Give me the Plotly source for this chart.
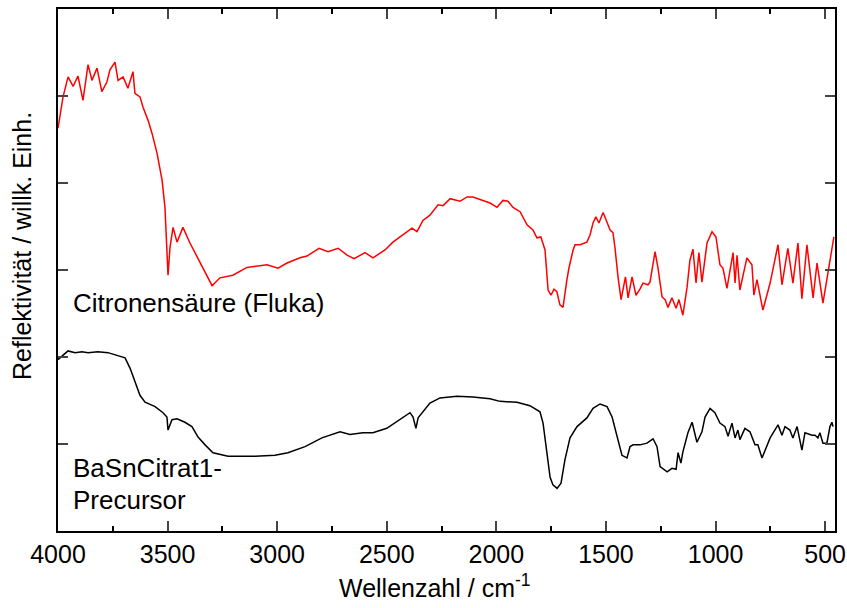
import plotly.graph_objects as go

# Citronensäure (Fluka) – wavenumber / reflectance (arb. units)
red_wn = [4000, 3977, 3954, 3931, 3909, 3886, 3863, 3845, 3822, 3800, 3777, 3763, 3740, 3726, 3703,
          3681, 3658, 3649, 3626, 3612, 3589, 3571, 3548, 3525, 3512, 3498, 3489, 3475, 3457, 3430,
          3398, 3352, 3320, 3297, 3261, 3202, 3138, 3046, 2996, 2955, 2896, 2864, 2809, 2768, 2722,
          2681, 2649, 2599, 2563, 2508, 2472, 2426, 2385, 2362, 2335, 2303, 2266, 2243, 2211, 2166,
          2134, 2107, 2066, 2029, 1997, 1970, 1947, 1924, 1892, 1860, 1833, 1815, 1797, 1778, 1764,
          1751, 1737, 1724, 1710, 1696, 1678, 1669, 1650, 1641, 1618, 1587, 1573, 1559, 1546, 1532,
          1513, 1495, 1481, 1468, 1459, 1445, 1431, 1411, 1399, 1381, 1363, 1345, 1331, 1308, 1299,
          1276, 1263, 1244, 1230, 1217, 1199, 1180, 1167, 1149, 1130, 1117, 1103, 1089, 1076, 1062,
          1039, 1016, 998, 980, 966, 948, 934, 920, 911, 902, 889, 857, 834, 825, 811,
          784, 751, 715, 697, 670, 647, 624, 606, 583, 555, 537, 510, 478, 460]
red_y = [4.63, 4.99, 5.22, 5.11, 5.23, 4.95, 5.36, 5.18, 5.32, 5.05, 5.16, 5.30, 5.39, 5.18, 5.22,
         5.09, 5.28, 5.03, 4.99, 4.87, 4.72, 4.57, 4.34, 4.03, 3.72, 2.94, 3.26, 3.49, 3.32, 3.49,
         3.31, 3.08, 2.92, 2.82, 2.91, 2.94, 3.03, 3.06, 3.02, 3.08, 3.14, 3.16, 3.25, 3.21, 3.25,
         3.17, 3.13, 3.20, 3.14, 3.23, 3.32, 3.40, 3.48, 3.44, 3.57, 3.63, 3.75, 3.74, 3.82, 3.79,
         3.84, 3.84, 3.80, 3.77, 3.72, 3.80, 3.79, 3.72, 3.67, 3.52, 3.46, 3.37, 3.38, 3.23, 2.77,
         2.71, 2.78, 2.75, 2.60, 2.57, 2.89, 3.02, 3.23, 3.29, 3.29, 3.32, 3.40, 3.54, 3.61, 3.54,
         3.66, 3.55, 3.46, 3.43, 3.26, 2.92, 2.66, 2.92, 2.68, 2.92, 2.71, 2.78, 2.85, 2.83, 2.86,
         3.21, 3.03, 2.69, 2.66, 2.57, 2.68, 2.56, 2.66, 2.48, 2.80, 3.11, 3.24, 2.85, 3.20, 2.86,
         3.31, 3.44, 3.38, 3.06, 3.02, 2.79, 3.00, 3.20, 2.85, 3.17, 2.77, 3.14, 3.06, 2.71, 2.89,
         2.54, 2.85, 3.29, 2.83, 3.25, 2.85, 3.31, 2.67, 3.29, 2.68, 3.08, 2.62, 3.08, 3.38]

# BaSnCitrat1-Precursor
blk_wn = [4000, 3977, 3954, 3922, 3891, 3863, 3818, 3772, 3726, 3694, 3671, 3649, 3626, 3603, 3557,
          3521, 3503, 3498, 3480, 3457, 3421, 3389, 3361, 3329, 3293, 3224, 3101, 3010, 2951, 2873,
          2796, 2713, 2668, 2609, 2563, 2500, 2440, 2394, 2380, 2367, 2357, 2335, 2303, 2257, 2180,
          2107, 2029, 1983, 1906, 1847, 1801, 1787, 1769, 1755, 1742, 1723, 1705, 1687, 1664, 1632,
          1587, 1559, 1527, 1495, 1472, 1450, 1427, 1404, 1390, 1376, 1345, 1313, 1285, 1267, 1253,
          1221, 1199, 1180, 1171, 1158, 1149, 1126, 1107, 1085, 1062, 1048, 1025, 1003, 980, 957,
          943, 925, 911, 898, 889, 866, 843, 820, 807, 788, 751, 715, 697, 683, 661,
          647, 628, 606, 592, 560, 546, 533, 524, 510, 492, 478, 469, 464]
blk_y = [1.97, 2.02, 2.07, 2.05, 2.06, 2.05, 2.06, 2.05, 2.01, 1.99, 1.87, 1.71, 1.56, 1.48, 1.43,
         1.36, 1.31, 1.16, 1.28, 1.29, 1.25, 1.20, 1.08, 0.99, 0.90, 0.86, 0.86, 0.87, 0.90, 0.97,
         1.07, 1.14, 1.11, 1.13, 1.13, 1.18, 1.28, 1.36, 1.31, 1.18, 1.30, 1.37, 1.47, 1.53, 1.55,
         1.54, 1.52, 1.49, 1.48, 1.44, 1.37, 1.24, 0.90, 0.62, 0.53, 0.49, 0.55, 0.82, 1.07, 1.20,
         1.30, 1.41, 1.46, 1.43, 1.31, 1.08, 0.87, 0.84, 0.97, 0.99, 0.99, 1.01, 1.06, 0.97, 0.74,
         0.68, 0.72, 0.71, 0.90, 0.78, 0.91, 1.13, 1.25, 1.02, 1.14, 1.31, 1.41, 1.36, 1.24, 1.20,
         1.09, 1.24, 1.07, 1.16, 1.05, 1.18, 1.14, 0.99, 0.99, 0.84, 1.07, 1.22, 1.10, 1.20, 1.16,
         1.07, 1.20, 0.93, 1.13, 1.10, 1.10, 1.07, 1.13, 1.01, 1.01, 1.20, 1.25, 1.20]

x_ticks = [4000, 3500, 3000, 2500, 2000, 1500, 1000, 500]
y_ticks = [1, 2, 3, 4, 5]

FONT = "Liberation Sans, Arial, sans-serif"

fig = go.Figure()
fig.add_trace(go.Scatter(x=red_wn, y=red_y, mode="lines",
                         line=dict(color="#ff0000", width=1.5), showlegend=False))
fig.add_trace(go.Scatter(x=blk_wn, y=blk_y, mode="lines",
                         line=dict(color="#000000", width=1.5), showlegend=False))

fig.update_layout(
    width=847, height=608,
    margin=dict(l=58, r=12, t=9, b=77, autoexpand=False),
    paper_bgcolor="white", plot_bgcolor="white",
    font=dict(family=FONT, size=25, color="black"),
    xaxis=dict(range=[4000, 455], tickvals=x_ticks, ticks="inside", ticklen=10, tickwidth=2,
               showline=True, linewidth=2, linecolor="black", mirror="allticks",
               showgrid=False, zeroline=False, tickfont=dict(size=25),
               automargin=False, ticklabelstandoff=0,
               minor=dict(dtick=250, tick0=0, ticks="inside", ticklen=5, tickwidth=2,
                          tickcolor="black", showgrid=False)),
    yaxis=dict(range=[0, 6], tickvals=y_ticks, ticks="inside", ticklen=10, tickwidth=2,
               showline=True, linewidth=2, linecolor="black", mirror="allticks",
               showgrid=False, zeroline=False, showticklabels=False, automargin=False),
    annotations=[
        dict(text="Citronensäure (Fluka)", x=3940, y=2.62, xref="x", yref="y",
             xanchor="left", yanchor="middle", showarrow=False, font=dict(size=26)),
        dict(text="BaSnCitrat1-", x=3940, y=0.72, xref="x", yref="y",
             xanchor="left", yanchor="middle", showarrow=False, font=dict(size=26)),
        dict(text="Precursor", x=3940, y=0.36, xref="x", yref="y",
             xanchor="left", yanchor="middle", showarrow=False, font=dict(size=26)),
        dict(text="Wellenzahl / cm<sup>-1</sup>", x=0.485, y=-0.105, xref="paper", yref="paper",
             xanchor="center", yanchor="middle", showarrow=False, font=dict(size=25)),
        dict(text="Reflektivität / willk. Einh.", x=-0.0463, y=0.546, xref="paper", yref="paper",
             xanchor="center", yanchor="middle", textangle=-90, showarrow=False,
             font=dict(size=25)),
    ],
)

fig.write_html("out.html")
